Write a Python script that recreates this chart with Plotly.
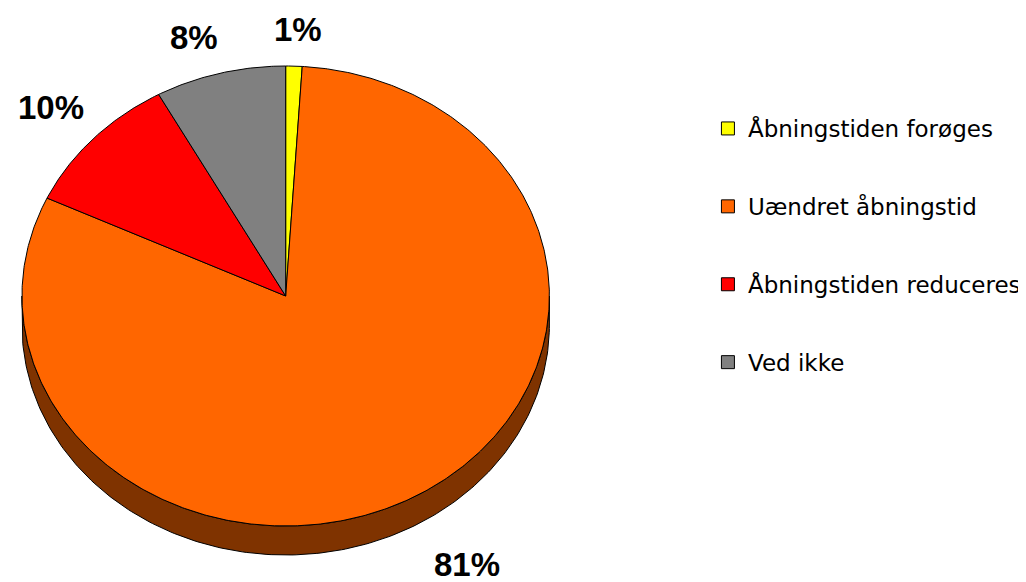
import numpy as np
import plotly.graph_objects as go

categories = ["Åbningstiden forøges", "Uændret åbningstid", "Åbningstiden reduceres", "Ved ikke"]
values = [1.0, 81.0, 10.0, 8.0]
labels = ["1%", "81%", "10%", "8%"]
colors = ["#FFFF00", "#FF6600", "#FF0000", "#808080"]
side_colors = ["#808000", "#7F3300", "#800000", "#404040"]

W, H = 1026, 582
OFF = 8  # page body margin of the html page
FW, FH = W - OFF, H - OFF
cx, cy = 286.5, 296.0
rx, ry = 264.5, 230.0
depth = 29.0

fig = go.Figure()

total = sum(values)
bounds = np.concatenate([[0.0], np.cumsum(values) / total * 360.0])


def pt(theta_deg, dy=0.0):
    t = np.radians(theta_deg)
    return cx + rx * np.sin(t), cy - ry * np.cos(t) + dy


# side walls (visible front half: 90..270 degrees)
for i in range(len(values)):
    a0, a1 = max(bounds[i], 90.0), min(bounds[i + 1], 270.0)
    if a1 <= a0:
        continue
    th = np.linspace(a0, a1, 200)
    xs_top, ys_top = pt(th)
    xs_bot, ys_bot = pt(th[::-1], depth)
    xs = np.concatenate([xs_top, xs_bot, xs_top[:1]])
    ys = np.concatenate([ys_top, ys_bot, ys_top[:1]])
    fig.add_trace(go.Scatter(x=xs, y=ys, mode="lines", fill="toself",
                             fillcolor=side_colors[i], line=dict(color="black", width=1),
                             hoverinfo="skip", showlegend=False))

# top faces
for i in range(len(values)):
    th = np.linspace(bounds[i], bounds[i + 1], max(int((bounds[i + 1] - bounds[i]) * 2), 4))
    xa, ya = pt(th)
    xs = np.concatenate([[cx], xa, [cx]])
    ys = np.concatenate([[cy], ya, [cy]])
    fig.add_trace(go.Scatter(x=xs, y=ys, mode="lines", fill="toself",
                             fillcolor=colors[i], line=dict(color="black", width=1),
                             name=categories[i], hoverinfo="name", showlegend=False))

# legend entries
for i in range(len(values)):
    fig.add_trace(go.Scatter(x=[None], y=[None], mode="markers", name=categories[i],
                             legendgroup=f"g{i}",
                             marker=dict(symbol="square", size=13, color=colors[i],
                                         line=dict(color="black", width=1))))

# percentage labels
for i in range(len(values)):
    mid = (bounds[i] + bounds[i + 1]) / 2
    t = np.radians(mid)
    s, c = np.sin(t), np.cos(t)
    pad = 16 if c > 0 else 24
    x = cx + (rx + pad) * s
    y = cy - (ry + pad) * c + (depth if c < 0 else 0)
    xanchor = "right" if s < -0.15 else ("left" if s > 0.15 else "center")
    yanchor = "bottom" if c > 0 else "top"
    fig.add_annotation(x=x + (4 if c > 0 else 0), y=y, text=labels[i], showarrow=False,
                       xanchor=xanchor, yanchor=yanchor,
                       font=dict(family="Liberation Sans, Arial", size=33, color="black", weight="bold"))

fig.update_layout(
    width=FW, height=FH,
    margin=dict(l=0, r=0, t=0, b=0),
    paper_bgcolor="white", plot_bgcolor="white",
    xaxis=dict(range=[OFF, W], visible=False, fixedrange=True),
    yaxis=dict(range=[H, OFF], visible=False, fixedrange=True),
    legend=dict(x=(710 - OFF) / FW, y=1 - (107 - OFF) / FH, xanchor="left", yanchor="top",
                font=dict(family="DejaVu Sans, Verdana", size=23, color="black"),
                tracegroupgap=45, itemwidth=30, bgcolor="rgba(0,0,0,0)"),
)

fig.write_html("out.html")
